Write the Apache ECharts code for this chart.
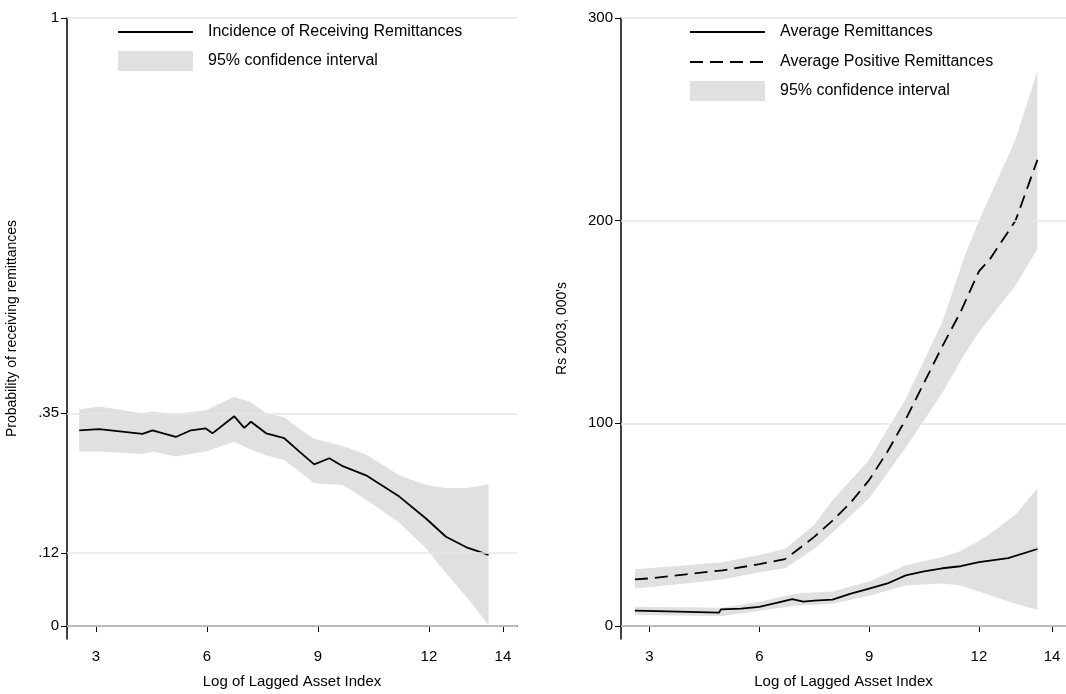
<!DOCTYPE html>
<html>
<head>
<meta charset="utf-8">
<script src="https://cdn.jsdelivr.net/npm/echarts@6/dist/echarts.min.js"></script>
<style>html,body{margin:0;background:#fff}</style>
</head>
<body>
<div id="main" style="width:1066px;height:694px;"></div>
<script>
// 左图: 收到汇款的概率
var incX  = [2.55,3.09,4.26,4.53,5.16,5.57,5.97,6.15,6.74,7.01,7.19,7.6,8.09,8.5,8.9,9.31,9.67,10.3,11.2,11.92,12.46,13.0,13.61];
var incY  = [0.322,0.324,0.316,0.322,0.311,0.322,0.325,0.317,0.345,0.326,0.336,0.317,0.309,0.287,0.266,0.276,0.263,0.248,0.213,0.177,0.147,0.13,0.117];
var incX2 = [2.55,3.09,4.26,4.53,5.16,5.97,6.74,7.19,7.6,8.09,8.5,8.9,9.67,10.3,11.2,11.92,12.46,13.0,13.61];
var incHi = [0.356,0.361,0.35,0.353,0.349,0.355,0.377,0.368,0.35,0.344,0.324,0.308,0.296,0.282,0.248,0.232,0.227,0.227,0.233];
var incLo = [0.287,0.287,0.283,0.287,0.279,0.287,0.303,0.29,0.281,0.273,0.254,0.235,0.232,0.208,0.17,0.128,0.087,0.049,0.002];

// 右图: 平均汇款
var posX  = [2.6,3,4,5,6,6.7,7,7.5,8,8.5,9,9.5,10,10.5,11,11.5,12,12.3,13,13.6];
var posY  = [23,23.5,25.5,27.5,30.5,33,37,44,52,61,72,86,102,120,138,155,175,181,200,230];
var posBX = [2.6,4,5,6,6.7,7.5,8,9,10,11,11.6,12,13,13.6];
var posHi = [28,30,31.5,35,38,50,62,82,112,150,182,200,240,274];
var posLo = [18.5,21,23,26.5,28.5,38,46,63,88,115,134,145,168,186];

var avgX  = [2.6,3.5,4.9,4.95,5.5,6,6.5,6.9,7.2,7.5,8,8.5,9,9.5,10,10.5,11,11.5,12,12.8,13.6];
var avgY  = [7.6,7.2,6.6,8.2,8.6,9.5,11.5,13.3,12,12.5,13,16,18.5,21,25,27,28.5,29.5,31.5,33.5,38];
var avgBX = [2.6,5,6,7,8,9,10,11,11.5,12,12.5,13,13.6];
var avgHi = [9.5,9,12,16,17,22,30,34,37,42,48,55,68];
var avgLo = [5.4,5,7.5,10,11,15,20,21,20,17,14,11,8];

var xTicks = [3,6,9,12,14];
var leftTicks = [0,0.12,0.35,1];
var rightTicks = [0,100,200,300];

var FONT = 'Liberation Sans';

function pairs(xs, ys){ return xs.map(function(x,i){ return [x, ys[i]]; }); }
function bandRows(xs, lo, hi){ return xs.map(function(x,i){ return [x, lo[i], hi[i]]; }); }

function band(idx, rows){
    return {
        type:'custom', xAxisIndex:idx, yAxisIndex:idx, clip:false, silent:true, z:1,
        encode:{x:0, y:[1,2]}, data:rows,
        renderItem:function(params, api){
            if (params.dataIndex !== 0) return;
            var top = [], bot = [];
            rows.forEach(function(r){
                top.push(api.coord([r[0], r[2]]));
                bot.unshift(api.coord([r[0], r[1]]));
            });
            return {type:'polygon', shape:{points: top.concat(bot)}, style:{fill:'#e0e0e0'}};
        }
    };
}
function grid(idx, vals){
    return {
        type:'line', xAxisIndex:idx, yAxisIndex:idx, data:[], z:0, silent:true,
        markLine:{symbol:'none', silent:true, label:{show:false},
            lineStyle:{color:'#e6e6e6', type:'solid', width:1.5},
            data: vals.map(function(v){ return {yAxis:v}; })}
    };
}
function line(idx, data, dash){
    return {type:'line', xAxisIndex:idx, yAxisIndex:idx, data:data, showSymbol:false, z:3,
        lineStyle:{color:'#000', width:1.8, type: dash ? [13,7] : 'solid'}};
}
function xAxis(idx){
    return {
        type:'value', gridIndex:idx, min:2.22, max:14.38,
        name:'Log of Lagged Asset Index', nameLocation:'middle', nameGap:35,
        nameTextStyle:{color:'#000', fontSize:15, fontFamily:FONT},
        axisLine:{lineStyle:{color:'#000', width:1.5}},
        axisTick:{customValues:xTicks, length:6, lineStyle:{color:'#000'}},
        axisLabel:{customValues:xTicks, color:'#000', fontSize:15, fontFamily:FONT, margin:10},
        splitLine:{show:false}
    };
}
function yAxis(idx, min, max, ticks, name, gap, fmt){
    return {
        type:'value', gridIndex:idx, min:min, max:max,
        name:name, nameLocation:'middle', nameGap:gap,
        nameTextStyle:{color:'#000', fontSize:14, fontFamily:FONT},
        axisLine:{show:true, lineStyle:{color:'#000', width:1.5}},
        axisTick:{show:true, customValues:ticks, length:6, lineStyle:{color:'#000'}},
        axisLabel:{customValues:ticks, color:'#000', fontSize:15, fontFamily:FONT, margin:8, formatter:fmt},
        splitLine:{show:false}
    };
}
function legendItem(x, y, kind, text){
    var items = [];
    if (kind === 'band') items.push({type:'rect', shape:{x:x, y:y-10, width:75, height:20}, style:{fill:'#e0e0e0'}});
    else items.push({type:'line', shape:{x1:x, y1:y, x2:x+75, y2:y},
        style:{stroke:'#000', lineWidth:1.8, lineDash: kind==='dash' ? [13,7] : null}});
    items.push({type:'text', x:x+90, y:y, style:{text:text, fill:'#000', fontSize:16,
        fontFamily:FONT, verticalAlign:'middle'}});
    return items;
}

var myChart = echarts.init(document.getElementById('main'));
var option = {
    animation:false,
    grid:[
        {left:67, right:549, top:18, bottom:55, outerBoundsMode:'none', containLabel:false},
        {left:621, right:0, top:18, bottom:55, outerBoundsMode:'none', containLabel:false}
    ],
    xAxis:[xAxis(0), xAxis(1)],
    yAxis:[
        yAxis(0, -0.0212, 1, leftTicks, 'Probability of receiving remittances', 48,
            function(v){ return v === 0 || v === 1 ? String(v) : String(v).replace(/^0/, ''); }),
        yAxis(1, -6.4, 300, rightTicks, "Rs 2003, 000's", 52)
    ],
    graphic: [].concat(
        legendItem(118, 32, 'line', 'Incidence of Receiving Remittances'),
        legendItem(118, 61, 'band', '95% confidence interval'),
        legendItem(690, 32, 'line', 'Average Remittances'),
        legendItem(690, 62, 'dash', 'Average Positive Remittances'),
        legendItem(690, 91, 'band', '95% confidence interval')
    ),
    series:[
        grid(0, leftTicks), grid(1, rightTicks),
        band(0, bandRows(incX2, incLo, incHi)),
        band(1, bandRows(posBX, posLo, posHi)),
        band(1, bandRows(avgBX, avgLo, avgHi)),
        line(0, pairs(incX, incY)),
        line(1, pairs(posX, posY), true),
        line(1, pairs(avgX, avgY))
    ]
};
myChart.setOption(option);
</script>
</body>
</html>
